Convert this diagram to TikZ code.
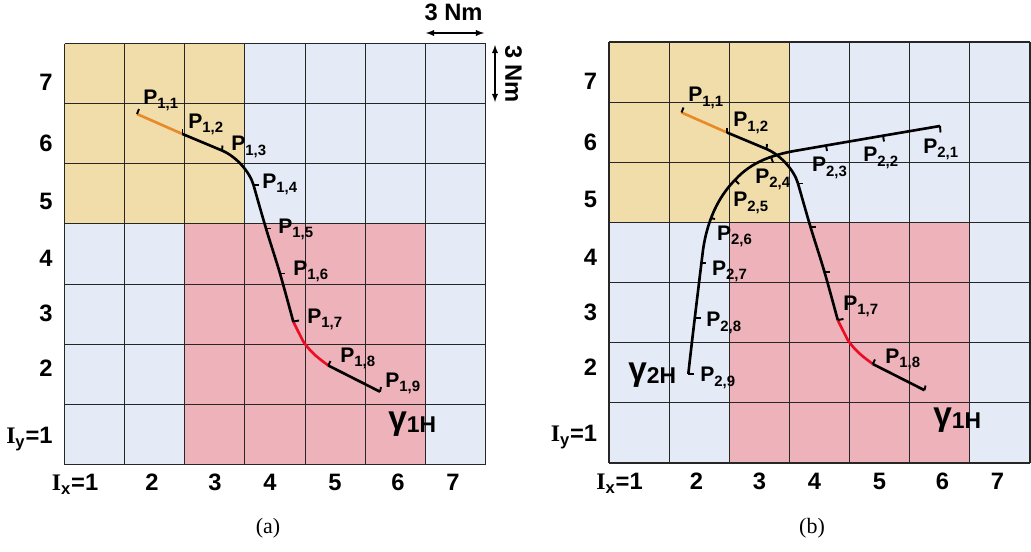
\documentclass[tikz,border=0pt]{standalone}
\usepackage{fontspec}
\setmainfont{Liberation Sans}
\newfontfamily\serifface{Liberation Serif}

\definecolor{cellblue}{RGB}{229,235,246}
\definecolor{celltan}{RGB}{240,221,170}
\definecolor{cellpink}{RGB}{237,178,186}
\definecolor{segorange}{RGB}{232,138,40}
\definecolor{segred}{RGB}{236,12,36}

\newcommand{\ptlab}[2]{P\raisebox{-2.6pt}{\fontsize{8.5}{9}\selectfont #1,#2}}
\newcommand{\gamlab}[1]{{\fontsize{19}{19}\selectfont\raisebox{1.5pt}{γ}}#1H}

\tikzset{
  gridline/.style={line width=0.6pt, black!85},
  traj/.style={line width=1.5pt, line join=round},
  tickmark/.style={line width=1.1pt},
  ptlabel/.style={anchor=base west, inner sep=0pt, font=\fontsize{12}{13}\selectfont\bfseries},
  axlabel/.style={inner sep=0pt, font=\fontsize{13.5}{15}\selectfont\bfseries},
  gamma/.style={anchor=base west, inner sep=0pt, font=\fontsize{13}{15}\selectfont\bfseries},
}

\begin{document}
\begin{tikzpicture}[x=0.02cm, y=-0.02cm, >=latex]
        \useasboundingbox (0,0) rectangle (1031,551);
        % ==== TWO PANELS: CELLS, GRID, INDICES, TRAJECTORY 1 ====
        \foreach \sx/\sy/\p in {0/0/a, 544.5/-1.5/b} {
          \begin{scope}[shift={(\sx,\sy)}]
            \fill[cellblue] (64.5,43.5) rectangle (485.5,464.5);
            \fill[celltan] (64.5,43.5) rectangle (244.9,223.9);
            \fill[cellpink] (184.8,223.9) rectangle (425.3,464.5);
            \foreach \k in {0,...,7} {
              \draw[gridline] ({64.5+60.14*\k},43.5) -- ({64.5+60.14*\k},464.5);
              \draw[gridline] (64.5,{43.5+60.14*\k}) -- (485.5,{43.5+60.14*\k});
            }
            \foreach \r/\yy in {7/90.7, 6/151.7, 5/209, 4/266.7, 3/321.7, 2/376.7}
              \node[axlabel, anchor=base east] (row\r\p) at (53,\yy) {\r};
            \node[axlabel, anchor=base east] (row1\p) at (53,443.3) {{\serifface I}\textsubscript{y}=1};
            \foreach \c/\xx in {2/152, 3/215, 4/270, 5/335, 6/398, 7/453}
              \node[axlabel, anchor=base] (col\c\p) at (\xx,490.7) {\c};
            \node[axlabel, anchor=base] (col1\p) at (75,490.7) {{\serifface I}\textsubscript{x}=1};
            % trajectory gamma_1H
            \draw[traj, segorange] (137,114) -- (182.5,134);
            \draw[traj] (182.5,134) -- (222,150.5) .. controls (236,156.4) and (249.6,171.6) .. (253.5,185);
            \draw[traj] plot[smooth, tension=0.5] coordinates {(253.5,185) (266,228.5) (280,273.5) (293.3,321.7)};
            \draw[traj, segred] plot[smooth, tension=0.6] coordinates {(293.3,321.7) (300,335) (305,344) (315,355) (328.3,365.5)};
            \draw[traj] (328.3,365.5) -- (380,391.7);
            \draw[tickmark] (137,114) -- (139,109);
            \draw[tickmark] (182.5,134) -- (182.5,129);
            \draw[tickmark] (222,150.5) -- (222.5,145.5);
            \draw[tickmark] (253.5,185) -- (258.5,185);
            \draw[tickmark] (266,228.5) -- (271,228.5);
            \draw[tickmark] (280,273.5) -- (285,273.5);
            \draw[tickmark] (293.3,321.5) -- (299,320.5);
            \draw[tickmark] (328.3,365.5) -- (330.5,361);
            \draw[tickmark] (380,391.7) -- (381,387);
          \end{scope}
        }

        % ==== SCALE ARROWS ====
        \coordinate (hl) at (426,33);
        \coordinate (hr) at (484,33);
        \coordinate (vt) at (495,45);
        \coordinate (vb) at (495,102);
        \draw[<->, line width=0.6pt] (hl) -- (hr);
        \draw[<->, line width=0.6pt] (vt) -- (vb);
        \node[axlabel] (nmh) at (453.5,12.5) {3 Nm};
        \node[axlabel, rotate=-90] (nmv) at (513.5,74) {3 Nm};

        % ==== LABELS, PANEL (a) ====
        \node[ptlabel] (a11) at (143,104) {\ptlab{1}{1}};
        \node[ptlabel] (a12) at (188,128) {\ptlab{1}{2}};
        \node[ptlabel] (a13) at (231,150.5) {\ptlab{1}{3}};
        \node[ptlabel] (a14) at (262,188) {\ptlab{1}{4}};
        \node[ptlabel] (a15) at (278,233) {\ptlab{1}{5}};
        \node[ptlabel] (a16) at (293,275) {\ptlab{1}{6}};
        \node[ptlabel] (a17) at (307,323) {\ptlab{1}{7}};
        \node[ptlabel] (a18) at (340,362) {\ptlab{1}{8}};
        \node[ptlabel] (a19) at (385,387) {\ptlab{1}{9}};
        \node[gamma] (ga1) at (388,432) {\gamlab{1}};

        % ==== TRAJECTORY gamma_2H, PANEL (b) ====
        \draw[traj] (940,126) -- (883,135.7) -- (826,145.5) -- (800,150)
            .. controls (775,154) and (752,161) .. (735,180)
            .. controls (722,193) and (708,215) .. (703,250)
            .. controls (699.5,279) and (692,340) .. (688.3,374);
        \draw[tickmark] (940,126) -- (940.5,132.5);
        \draw[tickmark] (883,135.7) -- (884,141.5);
        \draw[tickmark] (826,145.5) -- (827,151);
        \draw[tickmark] (771,157) -- (773,162.5);
        \draw[tickmark] (735,180) -- (739,184);
        \draw[tickmark] (710,218) -- (715,219);
        \draw[tickmark] (701,263) -- (706,263);
        \draw[tickmark] (695.5,318) -- (700.5,318);
        \draw[tickmark] (688.3,374) -- (693.5,374);

        % ==== LABELS, PANEL (b) ====
        \node[ptlabel] (b11) at (688,101.7) {\ptlab{1}{1}};
        \node[ptlabel] (b12) at (733,126.7) {\ptlab{1}{2}};
        \node[ptlabel] (b17) at (843,310) {\ptlab{1}{7}};
        \node[ptlabel] (b18) at (885,363) {\ptlab{1}{8}};
        \node[gamma] (gb1) at (933,428.3) {\gamlab{1}};
        \node[ptlabel] (b21) at (923,153.3) {\ptlab{2}{1}};
        \node[ptlabel] (b22) at (863,161.7) {\ptlab{2}{2}};
        \node[ptlabel] (b23) at (811.7,171.7) {\ptlab{2}{3}};
        \node[ptlabel] (b24) at (755,183.3) {\ptlab{2}{4}};
        \node[ptlabel] (b25) at (733,206.7) {\ptlab{2}{5}};
        \node[ptlabel] (b26) at (716.7,240) {\ptlab{2}{6}};
        \node[ptlabel] (b27) at (711.7,275) {\ptlab{2}{7}};
        \node[ptlabel] (b28) at (706,326.7) {\ptlab{2}{8}};
        \node[ptlabel] (b29) at (700,381.7) {\ptlab{2}{9}};
        \node[gamma] (gb2) at (628,383.3) {\gamlab{2}};

        % ==== CAPTIONS ====
        \node[font=\fontsize{12.5}{14}\selectfont\serifface] (capa) at (268,528) {(a)};
        \node[font=\fontsize{12.5}{14}\selectfont\serifface] (capb) at (812,528) {(b)};
\end{tikzpicture}
\end{document}
